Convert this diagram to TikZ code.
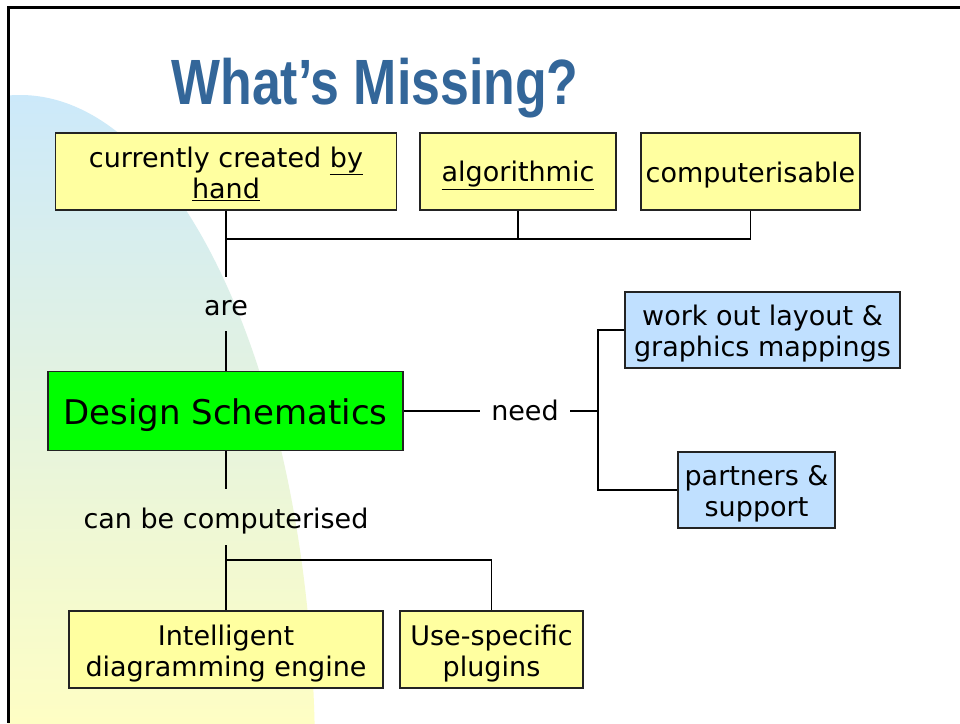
\documentclass[tikz,border=0pt]{standalone}
\usepackage{fontspec}
\setmainfont{DejaVu Sans}
\newfontfamily\titlefont{Liberation Sans}
\usepackage{graphicx}
\definecolor{boxyellow}{RGB}{255,255,160}
\definecolor{boxblue}{RGB}{192,224,255}
\definecolor{boxgreen}{RGB}{0,255,0}
\definecolor{titleblue}{RGB}{51,102,153}
\definecolor{bgtop}{RGB}{204,233,250}
\definecolor{bgbottom}{RGB}{254,254,196}
\definecolor{edge}{RGB}{35,35,35}
\newcommand{\su}{\rule{0pt}{28pt}}
\newcommand{\sd}{\rule[-6pt]{0pt}{0pt}}
\begin{document}
\begin{tikzpicture}[x=1pt,y=-1pt,
  box/.style={draw=edge, line width=1.3pt, rectangle, inner sep=0pt, align=center, font=\fontsize{27}{31}\selectfont},
  ybox/.style={box, fill=boxyellow, minimum height=77pt},
  bbox/.style={box, fill=boxblue, minimum height=76pt},
  lbl/.style={inner sep=0pt, font=\fontsize{27}{31}\selectfont},
  conn/.style={line width=1.3pt, black}]
\useasboundingbox[fill=white] (0,0) rectangle (960,723);
% background shape
\begin{scope}
  \clip (8,0) rectangle (960,723);
  \clip (20,760) ellipse [x radius=295pt, y radius=665pt];
  \shade[top color=bgtop, bottom color=bgbottom] (8,95) rectangle (330,723);
\end{scope}
% frame
\draw[line width=2.5pt] (8.5,723) -- (8.5,7.5) -- (960,7.5);
% title
\node[anchor=base, text=titleblue, inner sep=0pt] (title) at (375,104)
  {\titlefont\bfseries\fontsize{64}{64}\selectfont\scalebox{0.81}[1]{What’s Missing?}};
% top boxes
\node[ybox, minimum width=341pt] (hand) at (226,171.5) {\su currently created \underline{by}\\\underline{hand}\sd};
\node[ybox, minimum width=196pt] (alg) at (518,171.5) {\su\underline{algorithmic}\sd};
\node[ybox, minimum width=219pt] (comp) at (750.5,171.5) {\su computerisable\sd};
% centre
\node[lbl, minimum height=54pt] (are) at (226,304) {\su are\sd};
\node[box, fill=boxgreen, minimum width=355pt, minimum height=79pt, font=\fontsize{34}{40}\selectfont] (ds) at (225.5,411) {\rule{0pt}{35pt}Design Schematics\sd};
\node[lbl, minimum width=90pt] (need) at (525,411) {\rule{0pt}{26pt}need\rule[-8pt]{0pt}{0pt}};
\node[lbl, minimum height=56pt] (can) at (226,517) {\su can be computerised\sd};
% right boxes
\node[bbox, minimum width=275pt] (work) at (762.5,330) {\su work out layout \&\\graphics mappings\sd};
\node[bbox, minimum width=157pt] (part) at (756.5,490) {\su partners \&\\support\sd};
% bottom boxes
\node[ybox, minimum width=314pt] (intel) at (226,649.5) {\su Intelligent\\diagramming engine\sd};
\node[ybox, minimum width=183pt] (use) at (491.5,649.5) {\su Use-specific\\plugins\sd};
% connectors
\coordinate (topbus) at (226,239);
\coordinate (rbus) at (598,411);
\coordinate (lowbus) at (226,560);
\draw[conn] (hand.south) -- (topbus);
\draw[conn] (alg.south) |- (topbus);
\draw[conn] (comp.south) |- (topbus);
\draw[conn] (topbus) -- (are.north);
\draw[conn] (are.south) -- (ds.north -| are.south);
\draw[conn] (ds.east) -- (need.west);
\draw[conn] (need.east) -- (rbus);
\draw[conn] (work.west) -| (rbus) |- (part.west);
\draw[conn] (ds.south -| can.north) -- (can.north);
\draw[conn] (can.south) -- (intel.north);
\draw[conn] (lowbus) -| (use.north);
\end{tikzpicture}
\end{document}
